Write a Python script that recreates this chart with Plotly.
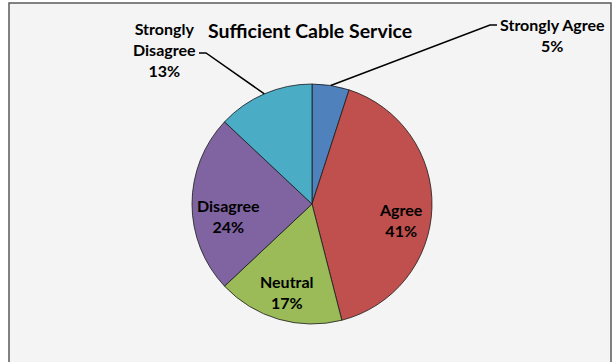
import math
import plotly.graph_objects as go

# ---- data ----
categories = ["Strongly Agree", "Agree", "Neutral", "Disagree", "Strongly Disagree"]
percent_values = [5, 41, 17, 24, 13]
slice_colors = ["#4F81BD", "#C0504D", "#9BBB59", "#8064A2", "#4BACC6"]
title_text = "Sufficient Cable Service"

# ---- layout geometry (pixels) ----
W, H = 613, 362
CX, CY, R = 312, 204, 120
FONT = "Lato"


def px(x):
    return x / W


def py(y):
    return 1 - y / H


def slice_point(idx, frac):
    total = sum(percent_values)
    start = sum(percent_values[:idx]) / total
    mid = start + percent_values[idx] / total / 2
    ang = mid * 2 * math.pi
    return CX + frac * R * math.sin(ang), CY - frac * R * math.cos(ang)


fig = go.Figure(
    go.Pie(
        labels=categories,
        values=percent_values,
        sort=False,
        direction="clockwise",
        rotation=0,
        marker=dict(colors=slice_colors, line=dict(color="#1a1a1a", width=0.8)),
        textinfo="none",
        hoverinfo="label+percent",
        showlegend=False,
        domain=dict(x=[px(CX - R), px(CX + R)], y=[py(CY + R), py(CY - R)]),
    )
)

shapes = [
    dict(type="rect", xref="paper", yref="paper",
         x0=px(9), x1=px(611), y0=py(370), y1=py(3),
         line=dict(color="#5a5a5a", width=1.5), fillcolor="#f4f4f4", layer="below"),
]

annotations = [
    dict(text=f"<b>{title_text}</b>", x=px(310), y=py(30), xref="paper", yref="paper",
         showarrow=False, font=dict(family=FONT, size=19.5, color="#000"),
         xanchor="center", yanchor="middle"),
]


def pct_label(i):
    total = sum(percent_values)
    return f"{round(percent_values[i] / total * 100)}%"


# inside labels: (slice index, radius fraction, vertical nudge px)
for i, frac, dy_ in [(1, 0.74, 13), (2, 0.76, 0), (3, 0.70, 12)]:
    x, y = slice_point(i, frac)
    y += dy_
    annotations.append(dict(
        text=f"<b>{categories[i]}<br>{pct_label(i)}</b>", x=px(x), y=py(y),
        xref="paper", yref="paper", showarrow=False,
        font=dict(family=FONT, size=16, color="#000"), align="center",
        xanchor="center", yanchor="middle"))

# outside labels with leader lines
annotations.append(dict(
    text=f"<b>{categories[0]}<br>{pct_label(0)}</b>", x=px(552), y=py(35),
    xref="paper", yref="paper", showarrow=False,
    font=dict(family=FONT, size=16, color="#000"), align="center",
    xanchor="center", yanchor="middle"))
annotations.append(dict(
    text=f"<b>Strongly<br>Disagree<br>{pct_label(4)}</b>", x=px(164), y=py(49),
    xref="paper", yref="paper", showarrow=False,
    font=dict(family=FONT, size=16, color="#000"), align="center",
    xanchor="center", yanchor="middle"))

sx, sy = slice_point(0, 1.0)
shapes.append(dict(type="path", xref="paper", yref="paper",
                   path=f"M {px(sx)} {py(sy)} L {px(490)} {py(25)} L {px(497)} {py(25)}",
                   line=dict(color="#000", width=1.5)))
dx, dy = slice_point(4, 1.0)
shapes.append(dict(type="path", xref="paper", yref="paper",
                   path=f"M {px(dx)} {py(dy)} L {px(206)} {py(53)} L {px(199)} {py(53)}",
                   line=dict(color="#000", width=1.5)))

fig.update_layout(
    width=W, height=H,
    margin=dict(l=0, r=0, t=0, b=0),
    paper_bgcolor="#ffffff",
    plot_bgcolor="#ffffff",
    shapes=shapes,
    annotations=annotations,
    font=dict(family=FONT),
)

fig.write_html(
    "out.html",
    config={"displayModeBar": False},
    post_script="document.body.style.margin='0';document.body.style.overflow='hidden';",
)
